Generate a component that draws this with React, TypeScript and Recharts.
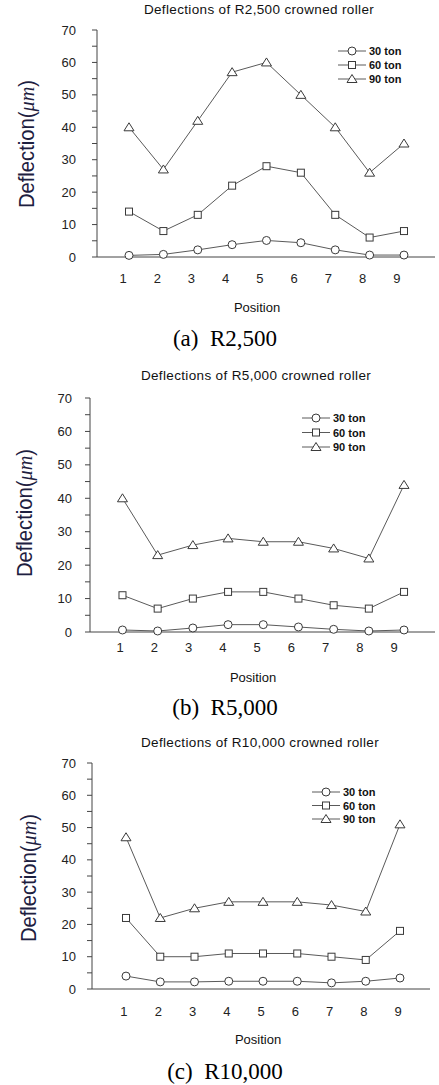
import React from 'react'
import { LineChart, Line, XAxis, YAxis, Legend } from 'recharts'

const positions = [1, 2, 3, 4, 5, 6, 7, 8, 9]
const seriesNames = ['30 ton', '60 ton', '90 ton']
const yTicks = [0, 5, 10, 15, 20, 25, 30, 35, 40, 45, 50, 55, 60, 65, 70]

const r2500_30 = [0.5, 0.8, 2.2, 3.8, 5.1, 4.4, 2.2, 0.6, 0.6]
const r2500_60 = [14, 8, 13, 22, 28, 26, 13, 6, 8]
const r2500_90 = [40, 27, 42, 57, 60, 50, 40, 26, 35]

const r5000_30 = [0.6, 0.3, 1.2, 2.2, 2.2, 1.5, 0.8, 0.3, 0.6]
const r5000_60 = [11, 7, 10, 12, 12, 10, 8, 7, 12]
const r5000_90 = [40, 23, 26, 28, 27, 27, 25, 22, 44]

const r10000_30 = [4, 2.2, 2.2, 2.4, 2.4, 2.4, 1.9, 2.4, 3.4]
const r10000_60 = [22, 10, 10, 11, 11, 11, 10, 9, 18]
const r10000_90 = [47, 22, 25, 27, 27, 27, 26, 24, 51]

const SANS = '"Liberation Sans", Arial, sans-serif'
const SERIF = '"Liberation Serif", "Times New Roman", serif'
const LINE = '#5a5a5a'
const MARK = '#3a3a3a'
const AXIS = '#444'

function buildRows(a: number[], b: number[], c: number[]) {
  return positions.map((p, i) => ({ pos: p, t30: a[i], t60: b[i], t90: c[i] }))
}

const charts = [
  {
    title: 'Deflections of R2,500 crowned roller',
    caption: '(a)  R2,500',
    rows: buildRows(r2500_30, r2500_60, r2500_90),
    top: 0, height: 340,
    margin: { top: 30, right: 4, bottom: 81, left: 0 },
    yWidth: 97, yTickMargin: 16,
    dataDomain: [0.069, 9.902], labelDomain: [0.241, 10.11],
    xTicks: true, labelMargin: 16,
    titleX: 259, titleY: 10, posX: 257, posY: 307, capY: 338,
    ylab: { x: 34, y: 114 },
    legend: { left: 336, top: 44, rowGap: 14 },
  },
  {
    title: 'Deflections of R5,000 crowned roller',
    caption: '(b)  R5,000',
    rows: buildRows(r5000_30, r5000_60, r5000_90),
    top: 340, height: 360,
    margin: { top: 58, right: 4, bottom: 66, left: 0 },
    yWidth: 90, yTickMargin: 13,
    dataDomain: [0.077, 9.88], labelDomain: [0.124, 10.19],
    xTicks: false, labelMargin: 10,
    titleX: 256, titleY: 36, posX: 253, posY: 337, capY: 367,
    ylab: { x: 32, y: 115 },
    legend: { left: 300, top: 71, rowGap: 14.5 },
  },
  {
    title: 'Deflections of R10,000 crowned roller',
    caption: '(c)  R10,000',
    rows: buildRows(r10000_30, r10000_60, r10000_90),
    top: 700, height: 385,
    margin: { top: 63, right: 9, bottom: 94, left: 0 },
    yWidth: 92, yTickMargin: 11,
    dataDomain: [0.007, 9.876], labelDomain: [0.066, 9.934],
    xTicks: true, labelMargin: 17,
    titleX: 260, titleY: 43, posX: 258, posY: 339, capY: 371,
    ylab: { x: 36, y: 115 },
    legend: { left: 310, top: 85, rowGap: 13.5 },
  },
]

function Marker({ kind, cx, cy }: { kind: number; cx: number; cy: number }) {
  if (kind === 0) return <circle cx={cx} cy={cy} r={4} fill="#fff" stroke={MARK} strokeWidth={1} />
  if (kind === 1) return <rect x={cx - 3.5} y={cy - 3.5} width={7} height={7} fill="#fff" stroke={MARK} strokeWidth={1} />
  return (
    <polygon
      points={`${cx},${cy - 4.5} ${cx + 5},${cy + 3.5} ${cx - 5},${cy + 3.5}`}
      fill="#fff"
      stroke={MARK}
      strokeWidth={1}
    />
  )
}

const dotFor = (kind: number) => (props: any) => {
  const { cx, cy, index } = props
  if (cx == null || cy == null) return <g key={`d${kind}-${index}`} />
  return (
    <g key={`d${kind}-${index}`}>
      <Marker kind={kind} cx={cx} cy={cy} />
    </g>
  )
}

function YTick(props: any) {
  const { x, y, payload } = props
  if (payload.value % 10 !== 0) return <g />
  return (
    <text x={x} y={y} dy={4.5} textAnchor="end" fontFamily={SANS} fontSize={13} fill="#222">
      {payload.value}
    </text>
  )
}

function LegendBox({ rowGap }: { rowGap: number }) {
  return (
    <svg width={80} height={44} style={{ display: 'block' }}>
      {seriesNames.map((name, i) => {
        const y = 7 + i * rowGap
        return (
          <g key={name}>
            <line x1={2} x2={30} y1={y} y2={y} stroke={LINE} strokeWidth={1} />
            <Marker kind={i} cx={16} cy={y} />
            <text x={33} y={y + 4} fontFamily={SANS} fontSize={11} fontWeight="bold" fill="#111">
              {name}
            </text>
          </g>
        )
      })}
    </svg>
  )
}

function RollerChart({ cfg }: { cfg: (typeof charts)[number] }) {
  const textBase: React.CSSProperties = {
    position: 'absolute',
    transform: 'translate(-50%, -50%)',
    whiteSpace: 'pre',
    lineHeight: 1,
  }
  return (
    <div style={{ position: 'absolute', left: 0, top: cfg.top, width: 439, height: cfg.height }}>
      <LineChart width={439} height={cfg.height} data={cfg.rows} margin={cfg.margin}>
        <XAxis
          dataKey="pos"
          type="number"
          domain={cfg.dataDomain}
          ticks={positions}
          allowDataOverflow
          height={1}
          tick={false}
          tickLine={cfg.xTicks ? { stroke: AXIS } : false}
          tickSize={5}
          axisLine={{ stroke: AXIS }}
        />
        <XAxis
          xAxisId="lab"
          dataKey="pos"
          type="number"
          domain={cfg.labelDomain}
          ticks={positions}
          allowDataOverflow
          height={1}
          axisLine={false}
          tickLine={false}
          tickSize={0}
          tickMargin={cfg.labelMargin}
          tick={{ fontFamily: SANS, fontSize: 13, fill: '#222' }}
        />
        <YAxis
          width={cfg.yWidth}
          domain={[0, 70]}
          ticks={yTicks}
          interval={0}
          tickSize={5}
          tickMargin={cfg.yTickMargin}
          tickLine={{ stroke: AXIS }}
          axisLine={{ stroke: AXIS }}
          tick={<YTick />}
          label={{
            content: () => (
              <text
                transform={`translate(${cfg.ylab.x},${cfg.ylab.y + cfg.margin.top}) rotate(-90) scale(0.92,1)`}
                textAnchor="middle"
                fontFamily={SANS}
                fontSize={22}
                fill="#1d2040"
              >
                Deflection(
                <tspan fontFamily={SERIF} fontStyle="italic">μm</tspan>)
              </text>
            ),
          }}
        />
        <Legend
          layout="vertical"
          align="center"
          verticalAlign="middle"
          wrapperStyle={{ position: 'absolute', left: cfg.legend.left, top: cfg.legend.top, width: 80 }}
          content={() => <LegendBox rowGap={cfg.legend.rowGap} />}
        />
        <Line dataKey="t30" name="30 ton" stroke={LINE} strokeWidth={1} dot={dotFor(0)} isAnimationActive={false} />
        <Line dataKey="t60" name="60 ton" stroke={LINE} strokeWidth={1} dot={dotFor(1)} isAnimationActive={false} />
        <Line dataKey="t90" name="90 ton" stroke={LINE} strokeWidth={1} dot={dotFor(2)} isAnimationActive={false} />
      </LineChart>
      <div style={{ ...textBase, left: cfg.titleX, top: cfg.titleY, fontFamily: SANS, fontSize: 13.5, letterSpacing: 0.35, color: '#111' }}>
        {cfg.title}
      </div>
      <div style={{ ...textBase, left: cfg.posX, top: cfg.posY, fontFamily: SANS, fontSize: 13, color: '#111' }}>
        Position
      </div>
      <div style={{ ...textBase, left: 225, top: cfg.capY, fontFamily: SERIF, fontSize: 23, color: '#000' }}>
        {cfg.caption}
      </div>
    </div>
  )
}

export default function App() {
  return (
    <div style={{ position: 'absolute', left: 0, top: 0, width: 439, height: 1085, background: '#fff' }}>
      {charts.map((c) => (
        <RollerChart key={c.caption} cfg={c} />
      ))}
    </div>
  )
}
